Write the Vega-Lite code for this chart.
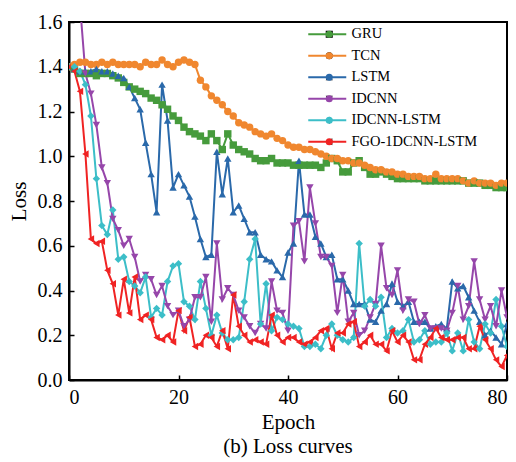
{
  "$schema": "https://vega.github.io/schema/vega-lite/v6.json",
  "autosize": {"type": "none"},
  "padding": {"left": 69, "top": 22, "right": 9, "bottom": 82},
  "width": 438,
  "height": 358,
  "background": "white",
  "config": {
    "view": {"stroke": "black", "strokeWidth": 2},
    "font": "Liberation Serif",
    "style": {"guide-label": {"font": "Liberation Serif"}, "guide-title": {"font": "Liberation Serif"}, "group-title": {"font": "Liberation Serif"}},
    "axis": {"grid": false, "domainColor": "black", "domainWidth": 2, "tickColor": "black", "tickWidth": 1.5, "tickSize": -5, "labelColor": "black", "titleColor": "black", "labelFont": "Liberation Serif", "titleFont": "Liberation Serif", "labelFontSize": 20, "titleFontSize": 21, "titleFontWeight": "normal"},
    "legend": {"labelFont": "Liberation Serif"},
    "title": {"font": "Liberation Serif"}
  },
  "title": {"text": "(b) Loss curves", "orient": "bottom", "font": "Liberation Serif", "fontSize": 21, "fontWeight": "normal", "color": "black", "offset": 4},
  "data": {
    "values": [
      {"epoch": 0, "GRU": 1.40, "TCN": 1.40, "LSTM": 1.40, "IDCNN": null, "IDCNN-LSTM": 1.40, "FGO-1DCNN-LSTM": 1.40},
      {"epoch": 1, "GRU": 1.39, "TCN": 1.41, "LSTM": 1.39, "IDCNN": null, "IDCNN-LSTM": 1.40, "FGO-1DCNN-LSTM": 1.38},
      {"epoch": 2, "GRU": 1.37, "TCN": 1.42, "LSTM": 1.38, "IDCNN": 1.68, "IDCNN-LSTM": 1.38, "FGO-1DCNN-LSTM": 1.29},
      {"epoch": 3, "GRU": 1.37, "TCN": 1.42, "LSTM": 1.38, "IDCNN": 1.37, "IDCNN-LSTM": 1.32, "FGO-1DCNN-LSTM": 1.01},
      {"epoch": 4, "GRU": 1.37, "TCN": 1.41, "LSTM": 1.38, "IDCNN": 1.28, "IDCNN-LSTM": 1.18, "FGO-1DCNN-LSTM": 0.63},
      {"epoch": 5, "GRU": 1.36, "TCN": 1.41, "LSTM": 1.39, "IDCNN": 1.14, "IDCNN-LSTM": 0.90, "FGO-1DCNN-LSTM": 0.61},
      {"epoch": 6, "GRU": 1.37, "TCN": 1.42, "LSTM": 1.38, "IDCNN": 0.95, "IDCNN-LSTM": 0.69, "FGO-1DCNN-LSTM": 0.62},
      {"epoch": 7, "GRU": 1.37, "TCN": 1.41, "LSTM": 1.38, "IDCNN": 0.88, "IDCNN-LSTM": 0.65, "FGO-1DCNN-LSTM": 0.49},
      {"epoch": 8, "GRU": 1.36, "TCN": 1.42, "LSTM": 1.37, "IDCNN": 0.72, "IDCNN-LSTM": 0.76, "FGO-1DCNN-LSTM": 0.43},
      {"epoch": 9, "GRU": 1.35, "TCN": 1.41, "LSTM": 1.36, "IDCNN": 0.67, "IDCNN-LSTM": 0.54, "FGO-1DCNN-LSTM": 0.29},
      {"epoch": 10, "GRU": 1.33, "TCN": 1.41, "LSTM": 1.35, "IDCNN": 0.60, "IDCNN-LSTM": 0.55, "FGO-1DCNN-LSTM": 0.45},
      {"epoch": 11, "GRU": 1.31, "TCN": 1.41, "LSTM": 1.31, "IDCNN": 0.63, "IDCNN-LSTM": 0.44, "FGO-1DCNN-LSTM": 0.30},
      {"epoch": 12, "GRU": 1.30, "TCN": 1.41, "LSTM": 1.26, "IDCNN": 0.55, "IDCNN-LSTM": 0.42, "FGO-1DCNN-LSTM": 0.46},
      {"epoch": 13, "GRU": 1.29, "TCN": 1.40, "LSTM": 1.21, "IDCNN": 0.44, "IDCNN-LSTM": 0.39, "FGO-1DCNN-LSTM": 0.27},
      {"epoch": 14, "GRU": 1.28, "TCN": 1.42, "LSTM": 1.06, "IDCNN": 0.47, "IDCNN-LSTM": 0.46, "FGO-1DCNN-LSTM": 0.29},
      {"epoch": 15, "GRU": 1.26, "TCN": 1.41, "LSTM": 0.92, "IDCNN": 0.45, "IDCNN-LSTM": 0.28, "FGO-1DCNN-LSTM": 0.27},
      {"epoch": 16, "GRU": 1.25, "TCN": 1.41, "LSTM": 0.75, "IDCNN": 0.38, "IDCNN-LSTM": 0.32, "FGO-1DCNN-LSTM": 0.19},
      {"epoch": 17, "GRU": 1.23, "TCN": 1.43, "LSTM": 1.32, "IDCNN": 0.42, "IDCNN-LSTM": 0.29, "FGO-1DCNN-LSTM": 0.18},
      {"epoch": 18, "GRU": 1.21, "TCN": 1.41, "LSTM": 1.16, "IDCNN": 0.33, "IDCNN-LSTM": 0.44, "FGO-1DCNN-LSTM": 0.20},
      {"epoch": 19, "GRU": 1.18, "TCN": 1.40, "LSTM": 0.86, "IDCNN": 0.29, "IDCNN-LSTM": 0.51, "FGO-1DCNN-LSTM": 0.17},
      {"epoch": 20, "GRU": 1.16, "TCN": 1.42, "LSTM": 0.92, "IDCNN": 0.31, "IDCNN-LSTM": 0.52, "FGO-1DCNN-LSTM": 0.31},
      {"epoch": 21, "GRU": 1.13, "TCN": 1.43, "LSTM": 0.87, "IDCNN": 0.24, "IDCNN-LSTM": 0.35, "FGO-1DCNN-LSTM": 0.22},
      {"epoch": 22, "GRU": 1.11, "TCN": 1.42, "LSTM": 0.82, "IDCNN": 0.27, "IDCNN-LSTM": 0.33, "FGO-1DCNN-LSTM": 0.28},
      {"epoch": 23, "GRU": 1.10, "TCN": 1.41, "LSTM": 0.73, "IDCNN": 0.37, "IDCNN-LSTM": 0.27, "FGO-1DCNN-LSTM": 0.15},
      {"epoch": 24, "GRU": 1.09, "TCN": 1.34, "LSTM": 0.63, "IDCNN": 0.37, "IDCNN-LSTM": 0.44, "FGO-1DCNN-LSTM": 0.16},
      {"epoch": 25, "GRU": 1.07, "TCN": 1.31, "LSTM": 0.55, "IDCNN": 0.46, "IDCNN-LSTM": 0.32, "FGO-1DCNN-LSTM": 0.20},
      {"epoch": 26, "GRU": 1.10, "TCN": 1.27, "LSTM": 0.56, "IDCNN": 0.26, "IDCNN-LSTM": 0.20, "FGO-1DCNN-LSTM": 0.19},
      {"epoch": 27, "GRU": 1.07, "TCN": 1.25, "LSTM": 1.02, "IDCNN": 0.61, "IDCNN-LSTM": 0.29, "FGO-1DCNN-LSTM": 0.15},
      {"epoch": 28, "GRU": 1.03, "TCN": 1.23, "LSTM": 0.83, "IDCNN": 0.36, "IDCNN-LSTM": 0.21, "FGO-1DCNN-LSTM": 0.22},
      {"epoch": 29, "GRU": 1.10, "TCN": 1.20, "LSTM": 0.99, "IDCNN": 0.41, "IDCNN-LSTM": 0.18, "FGO-1DCNN-LSTM": 0.14},
      {"epoch": 30, "GRU": 1.05, "TCN": 1.18, "LSTM": 0.75, "IDCNN": 0.38, "IDCNN-LSTM": 0.18, "FGO-1DCNN-LSTM": 0.38},
      {"epoch": 31, "GRU": 1.03, "TCN": 1.15, "LSTM": 0.78, "IDCNN": 0.31, "IDCNN-LSTM": 0.19, "FGO-1DCNN-LSTM": 0.24},
      {"epoch": 32, "GRU": 1.02, "TCN": 1.14, "LSTM": 0.72, "IDCNN": 0.28, "IDCNN-LSTM": 0.35, "FGO-1DCNN-LSTM": 0.20},
      {"epoch": 33, "GRU": 1.01, "TCN": 1.13, "LSTM": 0.66, "IDCNN": 0.24, "IDCNN-LSTM": 0.54, "FGO-1DCNN-LSTM": 0.17},
      {"epoch": 34, "GRU": 0.99, "TCN": 1.11, "LSTM": 0.66, "IDCNN": 0.21, "IDCNN-LSTM": 0.63, "FGO-1DCNN-LSTM": 0.18},
      {"epoch": 35, "GRU": 0.98, "TCN": 1.10, "LSTM": 0.56, "IDCNN": 0.25, "IDCNN-LSTM": 0.25, "FGO-1DCNN-LSTM": 0.17},
      {"epoch": 36, "GRU": 0.98, "TCN": 1.09, "LSTM": 0.54, "IDCNN": 0.23, "IDCNN-LSTM": 0.43, "FGO-1DCNN-LSTM": 0.16},
      {"epoch": 37, "GRU": 0.99, "TCN": 1.10, "LSTM": 0.53, "IDCNN": 0.44, "IDCNN-LSTM": 0.22, "FGO-1DCNN-LSTM": 0.29},
      {"epoch": 38, "GRU": 0.97, "TCN": 1.08, "LSTM": 0.49, "IDCNN": 0.31, "IDCNN-LSTM": 0.28, "FGO-1DCNN-LSTM": 0.20},
      {"epoch": 39, "GRU": 0.97, "TCN": 1.07, "LSTM": 0.46, "IDCNN": 0.30, "IDCNN-LSTM": 0.27, "FGO-1DCNN-LSTM": 0.17},
      {"epoch": 40, "GRU": 0.97, "TCN": 1.05, "LSTM": 0.57, "IDCNN": 0.22, "IDCNN-LSTM": 0.25, "FGO-1DCNN-LSTM": 0.19},
      {"epoch": 41, "GRU": 0.96, "TCN": 1.04, "LSTM": 0.61, "IDCNN": 0.69, "IDCNN-LSTM": 0.24, "FGO-1DCNN-LSTM": 0.19},
      {"epoch": 42, "GRU": 0.96, "TCN": 1.04, "LSTM": 0.98, "IDCNN": 0.71, "IDCNN-LSTM": 0.23, "FGO-1DCNN-LSTM": 0.17},
      {"epoch": 43, "GRU": 0.96, "TCN": 1.03, "LSTM": 0.74, "IDCNN": 0.53, "IDCNN-LSTM": 0.15, "FGO-1DCNN-LSTM": 0.16},
      {"epoch": 44, "GRU": 0.96, "TCN": 1.03, "LSTM": 0.74, "IDCNN": 0.86, "IDCNN-LSTM": 0.15, "FGO-1DCNN-LSTM": 0.17},
      {"epoch": 45, "GRU": 0.96, "TCN": 1.02, "LSTM": 0.64, "IDCNN": 0.70, "IDCNN-LSTM": 0.16, "FGO-1DCNN-LSTM": 0.19},
      {"epoch": 46, "GRU": 0.95, "TCN": 1.01, "LSTM": 0.61, "IDCNN": 0.55, "IDCNN-LSTM": 0.14, "FGO-1DCNN-LSTM": 0.22},
      {"epoch": 47, "GRU": 0.97, "TCN": 1.00, "LSTM": 0.55, "IDCNN": 0.55, "IDCNN-LSTM": 0.20, "FGO-1DCNN-LSTM": 0.23},
      {"epoch": 48, "GRU": 0.99, "TCN": 0.99, "LSTM": 0.56, "IDCNN": 0.51, "IDCNN-LSTM": 0.25, "FGO-1DCNN-LSTM": 0.14},
      {"epoch": 49, "GRU": 0.98, "TCN": 0.99, "LSTM": 0.45, "IDCNN": 0.30, "IDCNN-LSTM": 0.20, "FGO-1DCNN-LSTM": 0.21},
      {"epoch": 50, "GRU": 0.93, "TCN": 0.98, "LSTM": 0.45, "IDCNN": 0.47, "IDCNN-LSTM": 0.18, "FGO-1DCNN-LSTM": 0.21},
      {"epoch": 51, "GRU": 0.93, "TCN": 0.98, "LSTM": 0.40, "IDCNN": 0.26, "IDCNN-LSTM": 0.17, "FGO-1DCNN-LSTM": 0.25},
      {"epoch": 52, "GRU": 0.97, "TCN": 0.97, "LSTM": 0.34, "IDCNN": 0.30, "IDCNN-LSTM": 0.19, "FGO-1DCNN-LSTM": 0.26},
      {"epoch": 53, "GRU": 0.98, "TCN": 0.97, "LSTM": 0.34, "IDCNN": 0.20, "IDCNN-LSTM": 0.61, "FGO-1DCNN-LSTM": 0.15},
      {"epoch": 54, "GRU": 0.95, "TCN": 0.96, "LSTM": 0.34, "IDCNN": 0.22, "IDCNN-LSTM": 0.33, "FGO-1DCNN-LSTM": 0.17},
      {"epoch": 55, "GRU": 0.92, "TCN": 0.95, "LSTM": 0.27, "IDCNN": 0.28, "IDCNN-LSTM": 0.36, "FGO-1DCNN-LSTM": 0.20},
      {"epoch": 56, "GRU": 0.92, "TCN": 0.94, "LSTM": 0.26, "IDCNN": 0.34, "IDCNN-LSTM": 0.33, "FGO-1DCNN-LSTM": 0.16},
      {"epoch": 57, "GRU": 0.93, "TCN": 0.94, "LSTM": 0.31, "IDCNN": 0.60, "IDCNN-LSTM": 0.37, "FGO-1DCNN-LSTM": 0.16},
      {"epoch": 58, "GRU": 0.92, "TCN": 0.93, "LSTM": 0.34, "IDCNN": 0.41, "IDCNN-LSTM": 0.19, "FGO-1DCNN-LSTM": 0.13},
      {"epoch": 59, "GRU": 0.91, "TCN": 0.93, "LSTM": 0.43, "IDCNN": 0.38, "IDCNN-LSTM": 0.23, "FGO-1DCNN-LSTM": 0.22},
      {"epoch": 60, "GRU": 0.90, "TCN": 0.92, "LSTM": 0.35, "IDCNN": 0.49, "IDCNN-LSTM": 0.21, "FGO-1DCNN-LSTM": 0.17},
      {"epoch": 61, "GRU": 0.90, "TCN": 0.92, "LSTM": 0.33, "IDCNN": 0.31, "IDCNN-LSTM": 0.22, "FGO-1DCNN-LSTM": 0.20},
      {"epoch": 62, "GRU": 0.90, "TCN": 0.91, "LSTM": 0.35, "IDCNN": 0.36, "IDCNN-LSTM": 0.27, "FGO-1DCNN-LSTM": 0.17},
      {"epoch": 63, "GRU": 0.90, "TCN": 0.91, "LSTM": 0.26, "IDCNN": 0.35, "IDCNN-LSTM": 0.17, "FGO-1DCNN-LSTM": 0.09},
      {"epoch": 64, "GRU": 0.90, "TCN": 0.91, "LSTM": 0.26, "IDCNN": 0.25, "IDCNN-LSTM": 0.18, "FGO-1DCNN-LSTM": 0.09},
      {"epoch": 65, "GRU": 0.89, "TCN": 0.90, "LSTM": 0.26, "IDCNN": 0.29, "IDCNN-LSTM": 0.22, "FGO-1DCNN-LSTM": 0.16},
      {"epoch": 66, "GRU": 0.89, "TCN": 0.90, "LSTM": 0.23, "IDCNN": 0.23, "IDCNN-LSTM": 0.16, "FGO-1DCNN-LSTM": 0.19},
      {"epoch": 67, "GRU": 0.89, "TCN": 0.92, "LSTM": 0.24, "IDCNN": 0.23, "IDCNN-LSTM": 0.17, "FGO-1DCNN-LSTM": 0.23},
      {"epoch": 68, "GRU": 0.89, "TCN": 0.90, "LSTM": 0.25, "IDCNN": 0.23, "IDCNN-LSTM": 0.17, "FGO-1DCNN-LSTM": 0.19},
      {"epoch": 69, "GRU": 0.89, "TCN": 0.90, "LSTM": 0.23, "IDCNN": 0.22, "IDCNN-LSTM": 0.21, "FGO-1DCNN-LSTM": 0.18},
      {"epoch": 70, "GRU": 0.89, "TCN": 0.90, "LSTM": 0.44, "IDCNN": 0.30, "IDCNN-LSTM": 0.13, "FGO-1DCNN-LSTM": 0.18},
      {"epoch": 71, "GRU": 0.89, "TCN": 0.90, "LSTM": 0.41, "IDCNN": 0.42, "IDCNN-LSTM": 0.21, "FGO-1DCNN-LSTM": 0.19},
      {"epoch": 72, "GRU": 0.89, "TCN": 0.89, "LSTM": 0.42, "IDCNN": 0.27, "IDCNN-LSTM": 0.13, "FGO-1DCNN-LSTM": 0.19},
      {"epoch": 73, "GRU": 0.88, "TCN": 0.88, "LSTM": 0.37, "IDCNN": 0.33, "IDCNN-LSTM": 0.27, "FGO-1DCNN-LSTM": 0.14},
      {"epoch": 74, "GRU": 0.88, "TCN": 0.89, "LSTM": 0.31, "IDCNN": 0.53, "IDCNN-LSTM": 0.17, "FGO-1DCNN-LSTM": 0.14},
      {"epoch": 75, "GRU": 0.88, "TCN": 0.88, "LSTM": 0.26, "IDCNN": 0.36, "IDCNN-LSTM": 0.14, "FGO-1DCNN-LSTM": 0.24},
      {"epoch": 76, "GRU": 0.87, "TCN": 0.88, "LSTM": 0.20, "IDCNN": 0.27, "IDCNN-LSTM": 0.25, "FGO-1DCNN-LSTM": 0.18},
      {"epoch": 77, "GRU": 0.87, "TCN": 0.88, "LSTM": 0.22, "IDCNN": 0.33, "IDCNN-LSTM": 0.21, "FGO-1DCNN-LSTM": 0.14},
      {"epoch": 78, "GRU": 0.86, "TCN": 0.87, "LSTM": 0.19, "IDCNN": 0.24, "IDCNN-LSTM": 0.36, "FGO-1DCNN-LSTM": 0.09},
      {"epoch": 79, "GRU": 0.86, "TCN": 0.88, "LSTM": 0.16, "IDCNN": 0.40, "IDCNN-LSTM": 0.24, "FGO-1DCNN-LSTM": 0.06},
      {"epoch": 80, "GRU": 0.86, "TCN": 0.88, "LSTM": 0.25, "IDCNN": 0.28, "IDCNN-LSTM": 0.15, "FGO-1DCNN-LSTM": 0.11}
    ]
  },
  "transform": [
    {"fold": ["GRU", "TCN", "LSTM", "IDCNN", "IDCNN-LSTM", "FGO-1DCNN-LSTM"], "as": ["model", "loss"]},
    {"filter": "datum.loss != null"}
  ],
  "encoding": {
    "x": {"field": "epoch", "type": "quantitative", "scale": {"domain": [0, 80], "nice": false, "zero": false},
          "axis": {"title": "Epoch", "values": [0, 20, 40, 60, 80], "labelPadding": 12, "titlePadding": 4,
                   "labelFont": "Liberation Serif", "titleFont": "Liberation Serif", "labelFontSize": 20, "titleFontSize": 21, "titleFontWeight": "normal"}},
    "y": {"field": "loss", "type": "quantitative", "scale": {"domain": [0, 1.6], "nice": false},
          "axis": {"title": "Loss", "values": [0, 0.2, 0.4, 0.6, 0.8, 1.0, 1.2, 1.4, 1.6], "format": ".1f", "labelPadding": 12, "titlePadding": 8,
                   "labelFont": "Liberation Serif", "titleFont": "Liberation Serif", "labelFontSize": 20, "titleFontSize": 21, "titleFontWeight": "normal"}}
  },
  "layer": [
    {
      "mark": {"type": "line", "strokeWidth": 2, "clip": true},
      "encoding": {
        "color": {"field": "model", "type": "nominal",
          "scale": {"domain": ["GRU", "TCN", "LSTM", "IDCNN", "IDCNN-LSTM", "FGO-1DCNN-LSTM"],
                    "range": ["#469b3c", "#f0872f", "#2a69aa", "#9646aa", "#3cbec8", "#f02323"]},
          "legend": {"orient": "none", "legendX": 251, "legendY": 5, "title": null, "padding": 0,
                     "symbolType": "M-19,0H19", "symbolSize": 4, "symbolStrokeWidth": 2,
                     "labelFont": "Liberation Serif", "labelFontSize": 14.5, "labelColor": "black",
                     "labelOffset": 17, "rowPadding": 6.5}}
      }
    },
    {
      "mark": {"type": "point", "filled": true, "size": 55, "opacity": 1, "clip": true},
      "encoding": {
        "color": {"field": "model", "type": "nominal",
          "scale": {"domain": ["GRU", "TCN", "LSTM", "IDCNN", "IDCNN-LSTM", "FGO-1DCNN-LSTM"],
                    "range": ["#469b3c", "#f0872f", "#2a69aa", "#9646aa", "#3cbec8", "#f02323"]},
          "legend": {"orient": "none", "legendX": 253, "legendY": 5, "title": null, "padding": 0,
                     "symbolSize": 50, "labelFontSize": 14.5, "labelExpr": "''", "labelOffset": 17, "rowPadding": 6.5}},
        "shape": {"field": "model", "type": "nominal",
          "scale": {"domain": ["GRU", "TCN", "LSTM", "IDCNN", "IDCNN-LSTM", "FGO-1DCNN-LSTM"],
                    "range": ["square", "circle", "triangle-up", "triangle-down", "diamond", "triangle-left"]},
          "legend": {"orient": "none", "legendX": 253, "legendY": 5, "title": null, "padding": 0,
                     "symbolSize": 50, "labelFontSize": 14.5, "labelExpr": "''", "labelOffset": 17, "rowPadding": 6.5}}
      }
    }
  ],
  "resolve": {"scale": {"color": "independent"}}
}
